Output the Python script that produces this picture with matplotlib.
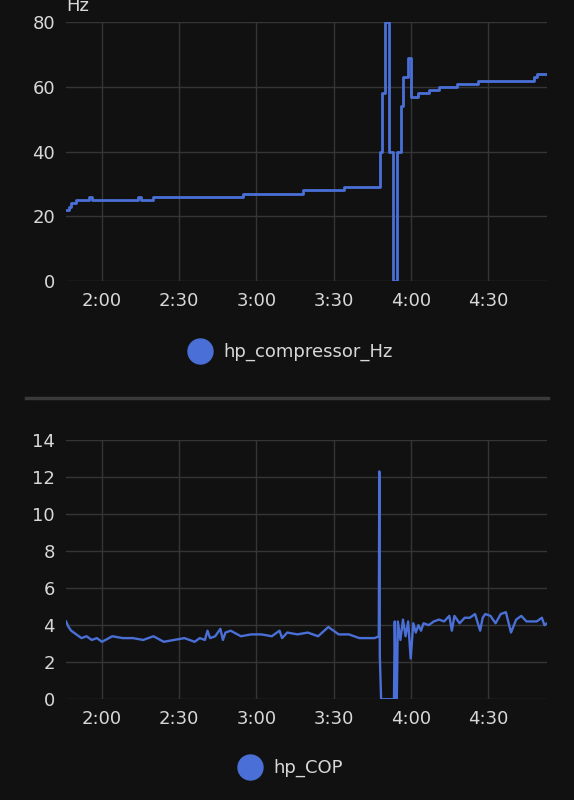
import datetime as dt
import matplotlib
matplotlib.use('Agg')
import matplotlib.pyplot as plt
import matplotlib.dates as mdates
from matplotlib.lines import Line2D

# compressor frequency, step changes (time, Hz)
hz_times = ['1:46', '1:47', '1:48', '1:50', '1:55', '1:56', '1:57', '2:14', '2:15', '2:19',
            '2:20', '2:49', '2:50', '2:54', '2:55', '3:17', '3:18', '3:33', '3:34', '3:48',
            '3:49', '3:50', '3:51.4', '3:52', '3:53.3', '3:54.5', '3:55', '3:56.4', '3:57.2', '3:58',
            '3:58.8', '3:59.5', '4:00.3', '4:01', '4:03', '4:07', '4:11', '4:18', '4:26', '4:48',
            '4:49', '4:53']
hz_vals = [22, 23, 24, 25, 26, 25, 25, 26, 25, 25,
           26, 26, 26, 26, 27, 27, 28, 28, 29, 40,
           58, 80, 40, 40, 0, 40, 40, 54, 63, 63,
           69, 69, 57, 57, 58, 59, 60, 61, 62, 63,
           64, 64]

cop_times = ['1:46', '1:47', '1:48', '1:50', '1:52', '1:54', '1:56', '1:58', '2:00', '2:04',
             '2:08', '2:12', '2:16', '2:20', '2:24', '2:28', '2:32', '2:36', '2:38', '2:40',
             '2:41', '2:42', '2:44', '2:46', '2:47', '2:48', '2:50', '2:54', '2:58', '3:02',
             '3:06', '3:09', '3:10', '3:12', '3:16', '3:20', '3:24', '3:28', '3:32', '3:36',
             '3:40', '3:46', '3:47.6', '3:47.8', '3:48', '3:48.5', '3:53.5', '3:53.8', '3:54.3', '3:54.6',
             '3:55', '3:56', '3:57', '3:58', '3:59', '4:00', '4:01', '4:02', '4:03', '4:04',
             '4:05', '4:07', '4:09', '4:11', '4:13', '4:15', '4:16', '4:17', '4:19', '4:21',
             '4:23', '4:25', '4:27', '4:28', '4:29', '4:31', '4:33', '4:35', '4:37', '4:39',
             '4:41', '4:43', '4:45', '4:47', '4:49', '4:51', '4:52', '4:53']
cop_vals = [4.2, 3.9, 3.7, 3.5, 3.3, 3.4, 3.2, 3.3, 3.1, 3.4,
            3.3, 3.3, 3.2, 3.4, 3.1, 3.2, 3.3, 3.1, 3.3, 3.2,
            3.7, 3.3, 3.4, 3.8, 3.2, 3.6, 3.7, 3.4, 3.5, 3.5,
            3.4, 3.7, 3.3, 3.6, 3.5, 3.6, 3.4, 3.9, 3.5, 3.5,
            3.3, 3.3, 3.4, 12.3, 2.3, 0.0, 0.0, 4.2, 0.0, 0.0,
            4.2, 3.2, 4.3, 3.4, 4.2, 2.2, 4.1, 3.6, 4.0, 3.7,
            4.1, 4.0, 4.2, 4.3, 4.2, 4.5, 3.7, 4.5, 4.1, 4.4,
            4.4, 4.6, 3.7, 4.4, 4.6, 4.5, 4.1, 4.6, 4.7, 3.6,
            4.3, 4.5, 4.2, 4.2, 4.2, 4.4, 4.0, 4.1]


def to_dt(s):
    h, m = s.split(':')
    mins = int(h) * 60 + float(m)
    return dt.datetime(2024, 1, 1) + dt.timedelta(minutes=mins)


BG = '#111111'
GRID = '#353535'
TXT = '#d8d8d8'
BLUE = '#4a6fd6'

fig = plt.figure(figsize=(5.74, 8), dpi=100, facecolor=BG)
ax1 = fig.add_axes([0.115, 0.649, 0.838, 0.323])
ax2 = fig.add_axes([0.115, 0.126, 0.838, 0.324])

xmin, xmax = to_dt('1:46'), to_dt('4:53')


def style(ax, ymax, ystep):
    ax.set_facecolor(BG)
    ax.set_xlim(xmin, xmax)
    ax.set_ylim(0, ymax)
    ax.set_yticks(range(0, ymax + 1, ystep))
    ax.xaxis.set_major_locator(mdates.MinuteLocator(byminute=[0, 30]))
    ax.xaxis.set_major_formatter(plt.FuncFormatter(
        lambda v, p: '%d:%02d' % (mdates.num2date(v).hour, mdates.num2date(v).minute)))
    ax.grid(True, color=GRID, lw=1)
    for s in ax.spines.values():
        s.set_visible(False)
    ax.tick_params(colors=TXT, labelsize=13, length=0, pad=8)


ax1.step([to_dt(t) for t in hz_times], hz_vals, where='post', color=BLUE, lw=2)
style(ax1, 80, 20)
ax1.text(-0.0, 1.045, 'Hz', transform=ax1.transAxes, color=TXT, fontsize=13, ha='left')

ax2.plot([to_dt(t) for t in cop_times], cop_vals, color=BLUE, lw=1.7)
style(ax2, 14, 2)

for ax, label, y in [(ax1, 'hp_compressor_Hz', 0.56), (ax2, 'hp_COP', 0.04)]:
    h = Line2D([], [], marker='o', color=BG, markerfacecolor=BLUE, markeredgecolor=BLUE,
               markersize=18, lw=0)
    fig.legend([h], [label], loc='center', bbox_to_anchor=(0.5, y), frameon=False,
               labelcolor=TXT, fontsize=13, handletextpad=0.3)

fig.add_artist(Line2D([0.045, 0.955], [0.502, 0.502], color='#3a3a3a', lw=2.5))

fig.savefig('out.png', facecolor=BG)
